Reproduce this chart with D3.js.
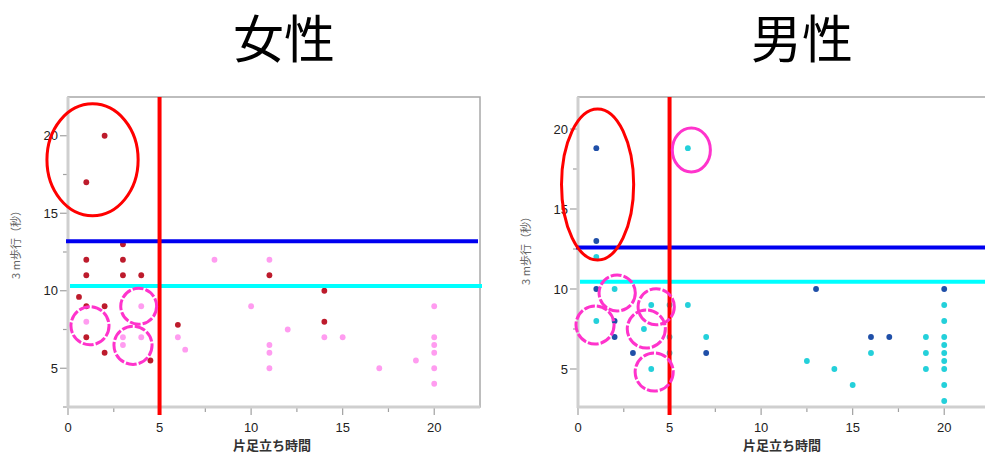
<!DOCTYPE html>
<html>
<head>
<meta charset="utf-8">
<script src="https://cdn.jsdelivr.net/npm/d3@7"></script>
<style>
  body { margin: 0; background: #fff; }
  svg text { font-family: "Liberation Sans", "DejaVu Sans", sans-serif; }
</style>
</head>
<body>
<div id="chart"></div>
<script>
// titles / labels
const panelTitles = ["女性", "男性"];
const xLabel = "片足立ち時間";
const yLabel = "3 m歩行（秒）";
const xTicks = [0, 5, 10, 15, 20];
const yTicks = [5, 10, 15, 20];

// female points : [片足立ち時間, 3m歩行]
const femaleRisk = [[2,20],[1,17],[3,13],[1,12],[3,12],[1,11],[3,11],[4,11],[11,11],
  [0.6,9.6],[1,9],[2,9],[1,7],[2,6],[4.5,5.5],[6,7.8],[14,10],[14,8]];
const femaleOk = [[8,12],[11,12],[1,8],[4,9],[3,7],[3,6.5],[4,7],[6,7],[6.4,6.2],[10,9],
  [12,7.5],[14,7],[15,7],[11,6.5],[11,6],[11,5],[17,5],[19,5.5],
  [20,9],[20,7],[20,6.5],[20,6],[20,5],[20,4]];

// male points
const maleRisk = [[1,18.8],[1,13],[1,10],[2,8],[2,7],[3,6],[7,6],[13,10],[20,10],[16,7],[17,7]];
const maleOk = [[6,18.8],[1,12],[2,10],[1,8],[4,9],[3.6,7.5],[4,5],[6,9],[7,7],[5,9],[5,7],[5,6],
  [20,9],[20,8],[20,7],[20,6.5],[20,6],[20,5.5],[20,5],[20,4],[20,3],
  [16,6],[19,7],[19,6],[19,5],[12.5,5.5],[14,5],[15,4]];

// cut-off lines : horizontal (blue, cyan) and vertical stand time
const femaleCuts = [13.2, 10.3];
const maleCuts = [12.6, 10.45];
const standCut = 5;

// annotations: [cx, cy, rx, ry] in data units
const femaleRing = [[1.34, 18.45, 2.49, 3.61]];
const femaleDashed = [[1.2, 7.74, 1.04, 1.23], [3.86, 9.0, 0.98, 1.16], [3.55, 6.48, 1.04, 1.23]];
const maleRing = [[1.07, 16.53, 1.97, 4.72]];
const maleSolid = [[6.19, 18.69, 1.04, 1.375]];
const maleDashed = [[2.14, 9.75, 0.99, 1.125], [0.93, 7.75, 1.04, 1.19], [4.27, 8.89, 0.99, 1.125],
  [3.73, 7.5, 1.04, 1.19], [4.16, 4.81, 1.04, 1.19]];

const W = 985, H = 458;
const svg = d3.select("#chart").append("svg")
  .attr("width", W).attr("height", H)
  .attr("viewBox", [0, 0, W, H]);

function drawPanel(opt) {
  const x = d3.scaleLinear().domain([0, 22.5]).range([opt.left, opt.left + 412]);
  const y = d3.scaleLinear().domain(opt.yDomain).range([407, 97]);
  const g = svg.append("g");

  // title
  g.append("text")
    .attr("x", opt.titleX).attr("y", 58)
    .attr("text-anchor", "middle")
    .style("font-family", "'Noto Sans CJK JP', sans-serif")
    .style("font-size", "51px")
    .attr("fill", "#000")
    .text(opt.title);

  // frame top / right
  g.append("rect")
    .attr("x", x(0)).attr("y", 97)
    .attr("width", x(22.5) - x(0)).attr("height", 310)
    .attr("fill", "none").attr("stroke", "#a8a8a8").attr("stroke-width", 1.5);

  // minor + major ticks
  const xMinor = d3.range(2.5, 22.5, 5);
  const yMinor = d3.range(2.5, 22.5, 5).filter(v => v >= opt.yDomain[0]);
  g.selectAll(".xt").data(xTicks).enter().append("line")
    .attr("x1", d => x(d)).attr("x2", d => x(d))
    .attr("y1", 407).attr("y2", 415).attr("stroke", "#a0a0a0").attr("stroke-width", 1.2);
  g.selectAll(".xm").data(xMinor).enter().append("line")
    .attr("x1", d => x(d)).attr("x2", d => x(d))
    .attr("y1", 407).attr("y2", 412).attr("stroke", "#a0a0a0").attr("stroke-width", 1.2);
  g.selectAll(".yt").data(yTicks).enter().append("line")
    .attr("y1", d => y(d)).attr("y2", d => y(d))
    .attr("x1", x(0) - 8).attr("x2", x(0)).attr("stroke", "#a0a0a0").attr("stroke-width", 1.2);
  g.selectAll(".ym").data(yMinor).enter().append("line")
    .attr("y1", d => y(d)).attr("y2", d => y(d))
    .attr("x1", x(0) - 5).attr("x2", x(0)).attr("stroke", "#a0a0a0").attr("stroke-width", 1.2);

  // axis lines (thick light grey)
  g.append("line").attr("x1", x(0)).attr("x2", x(0)).attr("y1", 97).attr("y2", 408)
    .attr("stroke", "#cfcfcf").attr("stroke-width", 3);
  g.append("line").attr("x1", x(0)).attr("x2", x(22.5)).attr("y1", 407).attr("y2", 407)
    .attr("stroke", "#cfcfcf").attr("stroke-width", 3);

  // tick labels
  g.selectAll(".xl").data(xTicks).enter().append("text")
    .attr("x", d => x(d)).attr("y", 432)
    .attr("text-anchor", "middle").style("font-size", "13px").attr("fill", "#222")
    .text(d => d);
  g.selectAll(".yl").data(yTicks).enter().append("text")
    .attr("x", x(0) - 10).attr("y", d => y(d) + 4.5)
    .attr("text-anchor", "end").style("font-size", "13px").attr("fill", "#222")
    .text(d => d);

  // axis titles
  g.append("text")
    .attr("x", (x(0) + x(22.5)) / 2 - 2).attr("y", 450)
    .attr("text-anchor", "middle")
    .style("font-family", "'Noto Sans CJK JP', sans-serif")
    .style("font-size", "13px").style("font-weight", "bold").attr("fill", "#333")
    .text(xLabel);
  g.append("text")
    .attr("transform", `translate(${x(0) - 48},${opt.yLabelY}) rotate(-90)`)
    .attr("text-anchor", "middle")
    .style("font-family", "'Noto Sans CJK JP', sans-serif")
    .style("font-size", "11px").attr("fill", "#666")
    .text(yLabel);

  // points
  const clip = "clip-" + opt.id;
  svg.append("clipPath").attr("id", clip).append("rect")
    .attr("x", x(0)).attr("y", 97).attr("width", x(22.5) - x(0)).attr("height", 310);
  const pts = g.append("g").attr("clip-path", `url(#${clip})`);
  pts.selectAll(".ok").data(opt.ok).enter().append("circle")
    .attr("cx", d => x(d[0])).attr("cy", d => y(d[1])).attr("r", 2.9)
    .attr("fill", opt.okColor);
  pts.selectAll(".risk").data(opt.risk).enter().append("circle")
    .attr("cx", d => x(d[0])).attr("cy", d => y(d[1])).attr("r", 2.9)
    .attr("fill", opt.riskColor);

  // cut-off lines
  g.append("line")
    .attr("x1", x(0) - 2).attr("x2", x(22.5) - 2)
    .attr("y1", y(opt.cuts[0])).attr("y2", y(opt.cuts[0]))
    .attr("stroke", "#0000f0").attr("stroke-width", 4);
  g.append("line")
    .attr("x1", x(0) + 2).attr("x2", x(22.5) + 2)
    .attr("y1", y(opt.cuts[1])).attr("y2", y(opt.cuts[1]))
    .attr("stroke", "#00ffff").attr("stroke-width", 4);
  g.append("line")
    .attr("x1", x(standCut)).attr("x2", x(standCut))
    .attr("y1", 97).attr("y2", 415)
    .attr("stroke", "#ff0000").attr("stroke-width", 4);

  // annotations
  const ell = (sel, data, color, dash) => sel.selectAll(null).data(data).enter().append("ellipse")
    .attr("cx", d => x(d[0])).attr("cy", d => y(d[1]))
    .attr("rx", d => x(d[2]) - x(0)).attr("ry", d => y(0) - y(d[3]))
    .attr("fill", "none").attr("stroke", color).attr("stroke-width", 3)
    .attr("stroke-dasharray", dash);
  ell(g, opt.ring, "#ff0000", null);
  ell(g, opt.solid, "#ff33cc", null);
  ell(g, opt.dashed, "#ff33cc", "11,2");
}

drawPanel({
  id: "f", title: panelTitles[0], titleX: 284, left: 68, yDomain: [2.5, 22.5], yLabelY: 242,
  risk: femaleRisk, ok: femaleOk, riskColor: "#bd1b2c", okColor: "#ff9cf0",
  cuts: femaleCuts, ring: femaleRing, solid: [], dashed: femaleDashed
});
drawPanel({
  id: "m", title: panelTitles[1], titleX: 802, left: 578, yDomain: [2.625, 22], yLabelY: 248,
  risk: maleRisk, ok: maleOk, riskColor: "#1f4fa8", okColor: "#24d0da",
  cuts: maleCuts, ring: maleRing, solid: maleSolid, dashed: maleDashed
});
</script>
</body>
</html>
